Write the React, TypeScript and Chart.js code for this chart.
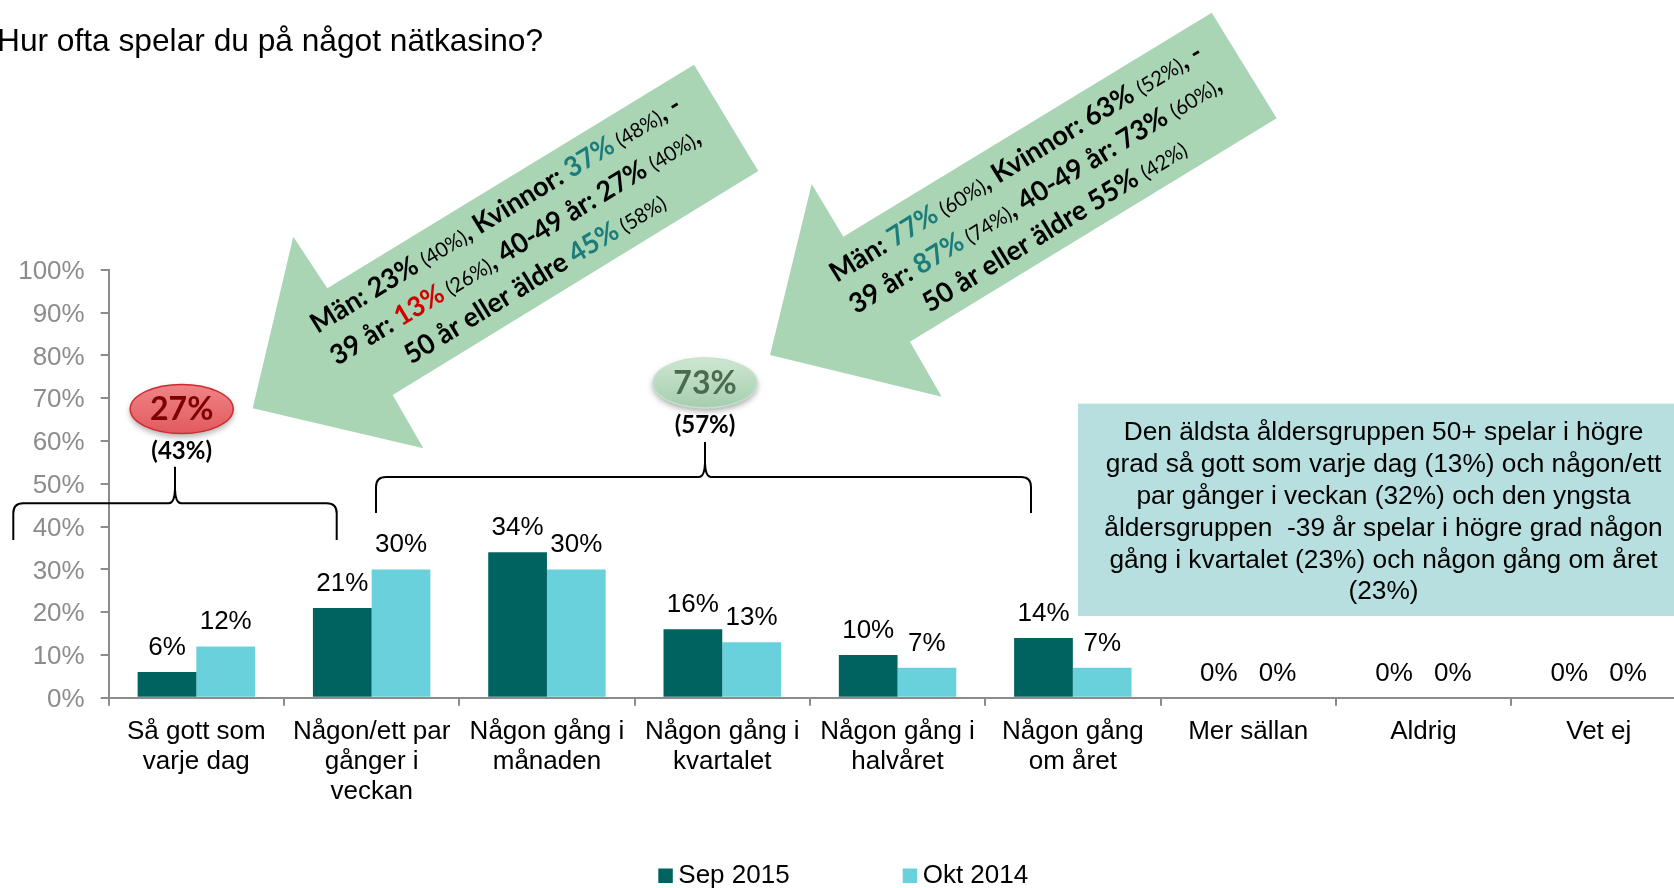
import React, { useEffect, useRef } from "react";
import { Chart, registerables } from "chart.js";

Chart.register(...registerables);

// ---------- data ----------
const categories: string[][] = [
  ["Så gott som", "varje dag"],
  ["Någon/ett par", "gånger i", "veckan"],
  ["Någon gång i", "månaden"],
  ["Någon gång i", "kvartalet"],
  ["Någon gång i", "halvåret"],
  ["Någon gång", "om året"],
  ["Mer sällan"],
  ["Aldrig"],
  ["Vet ej"],
];
const seriesNames = ["Sep 2015", "Okt 2014"];
const sep2015 = [6, 21, 34, 16, 10, 14, 0, 0, 0];
const okt2014 = [12, 30, 30, 13, 7, 7, 0, 0, 0];
const yMin = 0;
const yMax = 100;
const yStep = 10;

const titleText = "Hur ofta spelar du på något nätkasino?";
const noteLines = [
  "Den äldsta åldersgruppen 50+ spelar i högre",
  "grad så gott som varje dag (13%) och någon/ett",
  "par gånger i veckan (32%) och den yngsta",
  "åldersgruppen  -39 år spelar i högre grad någon",
  "gång i kvartalet (23%) och någon gång om året",
  "(23%)",
];
const leftBubble = ["27%", "(43%)"];
const rightBubble = ["73%", "(57%)"];

type Seg = { t: string; s: "b" | "s"; c?: string };
const TEAL = "#1b7c7b";
const RED = "#d40000";
const leftArrowText: Seg[][] = [
  [
    { t: "Män: 23% ", s: "b" },
    { t: "(40%)", s: "s" },
    { t: ", Kvinnor: ", s: "b" },
    { t: "37%", s: "b", c: TEAL },
    { t: " (48%)", s: "s" },
    { t: ", -", s: "b" },
  ],
  [
    { t: "39 år: ", s: "b" },
    { t: "13%", s: "b", c: RED },
    { t: " (26%)", s: "s" },
    { t: ", 40-49 år: 27% ", s: "b" },
    { t: "(40%)", s: "s" },
    { t: ",", s: "b" },
  ],
  [
    { t: "50 år eller äldre ", s: "b" },
    { t: "45%", s: "b", c: TEAL },
    { t: " (58%)", s: "s" },
  ],
];
const rightArrowText: Seg[][] = [
  [
    { t: "Män: ", s: "b" },
    { t: "77%", s: "b", c: TEAL },
    { t: " (60%)", s: "s" },
    { t: ", Kvinnor: 63% ", s: "b" },
    { t: "(52%)", s: "s" },
    { t: ", -", s: "b" },
  ],
  [
    { t: "39 år: ", s: "b" },
    { t: "87%", s: "b", c: TEAL },
    { t: " (74%)", s: "s" },
    { t: ", 40-49 år: 73% ", s: "b" },
    { t: "(60%)", s: "s" },
    { t: ",", s: "b" },
  ],
  [
    { t: "50 år eller äldre 55% ", s: "b" },
    { t: "(42%)", s: "s" },
  ],
];

// ---------- styling / layout ----------
const W = 1700;
const H = 888;
const DARK = "#00635f";
const LIGHT = "#69d1db";
const AXIS = "#8c8c8c";
const ARIAL = "'Liberation Sans', Arial, sans-serif";
const CAL = "Lato, 'Open Sans', sans-serif";
const ARROW_FILL = "#a9d5b5";

const leftArrowPoly = [
  [694, 64.7], [758.3, 171], [392.7, 395], [423.3, 448.3],
  [252.7, 408.3], [293.3, 236.7], [327.3, 288.3],
];
const rightArrowPoly = [
  [1211.7, 12.7], [1276.7, 118.3], [910, 341.7], [941.7, 396.7],
  [770, 355], [811.7, 184], [843.3, 236.7],
];

function drawArrowText(
  ctx: CanvasRenderingContext2D,
  lines: Seg[][],
  cx: number,
  cy: number,
  spacing: number,
  targets: number[]
) {
  const ang = (31.5 * Math.PI) / 180;
  const big = 27.5;
  const small = 20.5;
  const fontOf = (sg: Seg) => (sg.s === "b" ? `bold ${big}px ${CAL}` : `${small}px ${CAL}`);
  const measure = (line: Seg[]) => {
    let w = 0;
    for (const sg of line) {
      ctx.font = fontOf(sg);
      w += ctx.measureText(sg.t).width;
    }
    return w;
  };
  let sumW = 0;
  let sumT = 0;
  lines.forEach((l, i) => {
    sumW += measure(l);
    sumT += targets[i];
  });
  const k = sumT / sumW;
  const px = Math.sin(ang);
  const py = Math.cos(ang);
  lines.forEach((line, i) => {
    const off = (i - 1) * spacing;
    const mx = cx + px * off;
    const my = cy + py * off;
    const w = measure(line);
    ctx.save();
    ctx.translate(mx, my);
    ctx.rotate(-ang);
    ctx.scale(k, 1);
    ctx.textBaseline = "alphabetic";
    ctx.textAlign = "left";
    let x = -w / 2;
    for (const sg of line) {
      ctx.font = fontOf(sg);
      ctx.fillStyle = sg.c || "#000";
      ctx.fillText(sg.t, x, 0);
      x += ctx.measureText(sg.t).width;
    }
    ctx.restore();
  });
}

function drawPoly(ctx: CanvasRenderingContext2D, pts: number[][], fill: string) {
  ctx.save();
  ctx.beginPath();
  pts.forEach((p, i) => (i === 0 ? ctx.moveTo(p[0], p[1]) : ctx.lineTo(p[0], p[1])));
  ctx.closePath();
  ctx.fillStyle = fill;
  ctx.fill();
  ctx.restore();
}

function drawBrace(
  ctx: CanvasRenderingContext2D,
  x0: number,
  x1: number,
  y: number,
  yEnd: number,
  sx: number,
  yTop: number
) {
  const r = 10;
  ctx.save();
  ctx.beginPath();
  ctx.moveTo(x0, yEnd);
  ctx.lineTo(x0, y + r);
  ctx.quadraticCurveTo(x0, y, x0 + r, y);
  ctx.lineTo(sx - 6, y);
  ctx.quadraticCurveTo(sx - 0.5, y, sx, y - 14);
  ctx.lineTo(sx, yTop);
  ctx.moveTo(sx, y - 14);
  ctx.quadraticCurveTo(sx + 0.5, y, sx + 6, y);
  ctx.lineTo(x1 - r, y);
  ctx.quadraticCurveTo(x1, y, x1, y + r);
  ctx.lineTo(x1, yEnd);
  ctx.strokeStyle = "#000";
  ctx.lineWidth = 2;
  ctx.stroke();
  ctx.restore();
}

function drawBubble(
  ctx: CanvasRenderingContext2D,
  cx: number,
  cy: number,
  rx: number,
  ry: number,
  top: string,
  bottom: string,
  stroke: string,
  textColor: string,
  texts: string[],
  subY: number
) {
  ctx.save();
  ctx.beginPath();
  ctx.ellipse(cx, cy, rx, ry, 0, 0, Math.PI * 2);
  const g = ctx.createLinearGradient(0, cy - ry, 0, cy + ry);
  g.addColorStop(0, top);
  g.addColorStop(1, bottom);
  ctx.fillStyle = g;
  ctx.shadowColor = "rgba(0,0,0,0.35)";
  ctx.shadowBlur = 6;
  ctx.shadowOffsetY = 3;
  ctx.fill();
  ctx.shadowColor = "transparent";
  ctx.lineWidth = 1.5;
  ctx.strokeStyle = stroke;
  ctx.stroke();
  ctx.fillStyle = textColor;
  ctx.font = `bold 32px ${CAL}`;
  ctx.textAlign = "center";
  ctx.textBaseline = "middle";
  ctx.fillText(texts[0], cx, cy + 1);
  ctx.fillStyle = "#000";
  ctx.font = `bold 24px ${CAL}`;
  ctx.fillText(texts[1], cx, subY);
  ctx.restore();
}

const overlayPlugin = {
  id: "overlay",
  afterDraw(chart: any) {
    const ctx: CanvasRenderingContext2D = chart.ctx;
    ctx.save();

    // value labels above bars
    ctx.font = `26px ${ARIAL}`;
    ctx.fillStyle = "#000";
    ctx.textAlign = "center";
    ctx.textBaseline = "alphabetic";
    chart.data.datasets.forEach((ds: any, i: number) => {
      const meta = chart.getDatasetMeta(i);
      meta.data.forEach((bar: any, j: number) => {
        ctx.fillText(`${ds.data[j]}%`, bar.x, bar.y - 17);
      });
    });

    // title
    ctx.textAlign = "left";
    ctx.font = `31.7px ${ARIAL}`;
    ctx.fillText(titleText, -3, 51);

    // legend
    const legendX = [658.3, 902.7];
    chart.data.datasets.forEach((ds: any, i: number) => {
      ctx.fillStyle = ds.backgroundColor;
      ctx.fillRect(legendX[i], 868.5, 14.5, 14.5);
      ctx.fillStyle = "#000";
      ctx.font = `26px ${ARIAL}`;
      ctx.fillText(ds.label, legendX[i] + 20, 883.3);
    });

    // arrows
    drawPoly(ctx, leftArrowPoly, ARROW_FILL);
    drawPoly(ctx, rightArrowPoly, ARROW_FILL);
    drawArrowText(ctx, leftArrowText, 520, 254, 37.5, [427, 424.5, 307]);
    drawArrowText(ctx, rightArrowText, 1040, 202, 37, [431, 424.5, 311]);

    // braces
    drawBrace(ctx, 13.3, 336.7, 503.3, 540, 175, 466.7);
    drawBrace(ctx, 376, 1031, 477, 513, 705, 442);

    // bubbles
    drawBubble(ctx, 181.7, 409, 51.5, 24.5, "#ef8486", "#e25a5d", "#d02a30", "#7d0000", leftBubble, 451.7);
    drawBubble(ctx, 705, 383, 52, 25, "#cde7d2", "#a5cdae", "#c6e1cb", "#4b6b51", rightBubble, 425);

    // note box
    ctx.fillStyle = "#b8dfe0";
    ctx.fillRect(1078, 403.6, 640, 212.4);
    ctx.fillStyle = "#000";
    ctx.font = `26.3px ${ARIAL}`;
    ctx.textAlign = "center";
    ctx.textBaseline = "middle";
    noteLines.forEach((l, i) => ctx.fillText(l, 1383.5, 433.2 + i * 31.8));

    ctx.restore();
  },
};

export default function App() {
  const ref = useRef<HTMLCanvasElement | null>(null);
  useEffect(() => {
    if (!ref.current) return;
    const chart = new Chart(ref.current, {
      type: "bar",
      data: {
        labels: categories,
        datasets: [
          {
            label: seriesNames[0],
            data: sep2015,
            backgroundColor: DARK,
            barPercentage: 1,
            categoryPercentage: 0.67,
            borderWidth: 0,
          },
          {
            label: seriesNames[1],
            data: okt2014,
            backgroundColor: LIGHT,
            barPercentage: 1,
            categoryPercentage: 0.67,
            borderWidth: 0,
          },
        ],
      },
      options: {
        responsive: false,
        animation: false,
        devicePixelRatio: 1,
        layout: { padding: { top: 269.8, left: 0, right: 13.6, bottom: 0 } },
        plugins: {
          legend: { display: false },
          tooltip: { enabled: false },
          title: { display: false },
        },
        scales: {
          x: {
            grid: {
              drawOnChartArea: false,
              drawTicks: true,
              tickLength: 8,
              color: AXIS,
              lineWidth: 2,
              offset: true,
            },
            border: { display: true, color: AXIS, width: 2 },
            ticks: {
              color: "#000",
              font: { family: ARIAL, size: 26, lineHeight: 1.15 },
              padding: 11,
              maxRotation: 0,
              minRotation: 0,
              autoSkip: false,
            },
            afterFit: (s: any) => {
              s.height = 190.2;
            },
          },
          y: {
            min: yMin,
            max: yMax,
            ticks: {
              stepSize: yStep,
              callback: (v: any) => `${v}%`,
              color: AXIS,
              font: { family: ARIAL, size: 26 },
              padding: 16,
              labelOffset: 2,
            },
            grid: {
              drawOnChartArea: false,
              drawTicks: true,
              tickLength: 8,
              color: AXIS,
              lineWidth: 2,
            },
            border: { display: true, color: AXIS, width: 2 },
            afterFit: (s: any) => {
              s.width = 108.7;
            },
          },
        },
      },
      plugins: [overlayPlugin],
    });
    return () => chart.destroy();
  }, []);

  return (
    <div
      style={{
        position: "fixed",
        left: 0,
        top: 0,
        width: 1674,
        height: 888,
        overflow: "hidden",
        background: "#fff",
      }}
    >
      <canvas ref={ref} width={W} height={H} style={{ width: W, height: H, display: "block" }} />
    </div>
  );
}
